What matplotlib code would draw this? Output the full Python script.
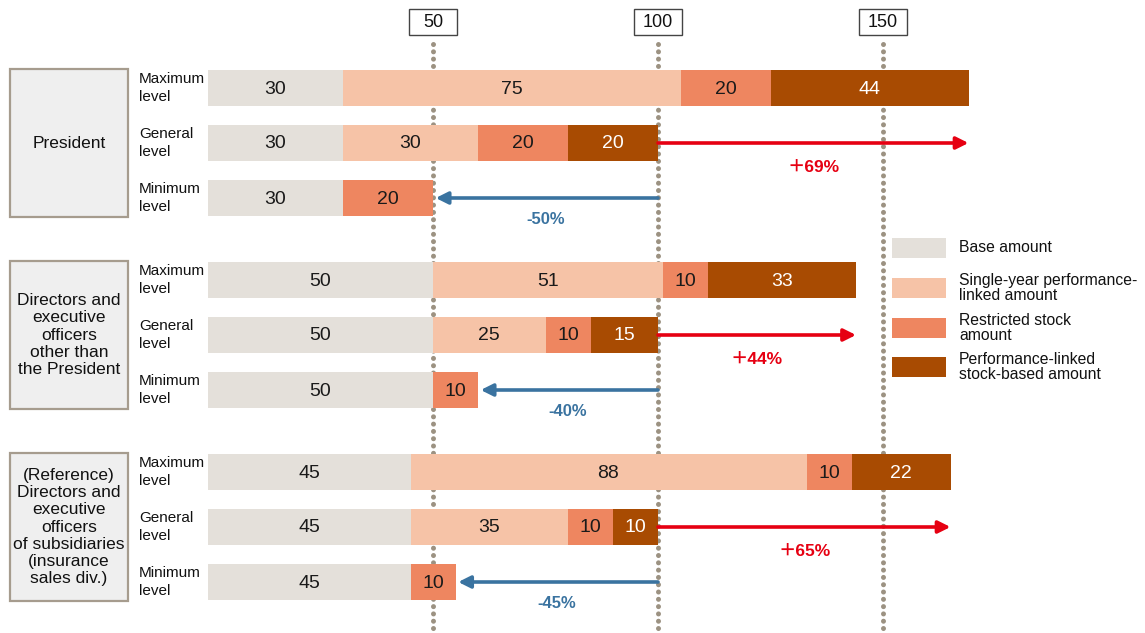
import matplotlib
matplotlib.use("Agg")
import matplotlib.pyplot as plt
from matplotlib.patches import Rectangle

plt.rcParams['font.family'] = ['Liberation Sans', 'Noto Sans CJK JP', 'DejaVu Sans']

# data
groups = ["President",
          "Directors and\nexecutive\nofficers\nother than\nthe President",
          "(Reference)\nDirectors and\nexecutive\nofficers\nof subsidiaries\n(insurance\nsales div.)"]
levels = ["Maximum\nlevel", "General\nlevel", "Minimum\nlevel"]
base = [[30, 30, 30], [50, 50, 50], [45, 45, 45]]
single_year = [[75, 30, 0], [51, 25, 0], [88, 35, 0]]
restricted = [[20, 20, 20], [10, 10, 10], [10, 10, 10]]
perf_stock = [[44, 20, 0], [33, 15, 0], [22, 10, 0]]
up_labels = ["＋69%", "＋44%", "＋65%"]
down_labels = ["-50%", "-40%", "-45%"]
ticks = [50, 100, 150]
series_names = ["Base amount", "Single-year performance-\nlinked amount",
                "Restricted stock\namount", "Performance-linked\nstock-based amount"]
colors = ["#E4E0DA", "#F6C3A7", "#EE8660", "#A84B02"]
text_colors = ["#1a1a1a", "#1a1a1a", "#1a1a1a", "white"]

# layout (y in pixels from top, x in data units; 4.5 px per unit, 0 at x=208px)
W, H = 1145, 633
PX = 4.5
X0 = 208
def px(x):
    return (x - X0) / PX

group_top = [88, 280, 472]
row_step = 55
bar_h = 36

fig = plt.figure(figsize=(W / 100, H / 100), dpi=100)
ax = fig.add_axes([0, 0, 1, 1])
ax.set_xlim(px(0), px(W))
ax.set_ylim(H, 0)
ax.axis('off')

# dotted reference lines + boxed labels
for t in ticks:
    ax.plot([t, t], [44, H], color="#9C9282", lw=3.6, linestyle=(0, (0.01, 1.45)),
            dash_capstyle='round', zorder=1)
    ax.add_patch(Rectangle((t - 24 / PX, 9), 48 / PX, 26, fc='white', ec='#444444',
                           lw=1.0, zorder=3))
    ax.text(t, 22.5, str(t), ha='center', va='center', fontsize=13, color='#111111', zorder=4)

for g, gname in enumerate(groups):
    ys = [group_top[g] + r * row_step for r in range(3)]
    # group box
    box_top = ys[0] - 19
    box_bot = ys[2] + 19
    ax.add_patch(Rectangle((px(10), box_top), 118 / PX, box_bot - box_top,
                           fc="#EFEFEF", ec="#A69C8E", lw=1.6, zorder=2))
    ax.text(px(69), (box_top + box_bot) / 2, gname, ha='center', va='center',
            fontsize=12.5, linespacing=1.18, color='#111111')
    for r in range(3):
        y = ys[r]
        ax.text(px(139), y, levels[r], ha='left', va='center', fontsize=11,
                linespacing=1.38, color='#111111')
        left = 0
        vals = [base[g][r], single_year[g][r], restricted[g][r], perf_stock[g][r]]
        for k, v in enumerate(vals):
            if v == 0:
                continue
            ax.barh(y, v, left=left, height=bar_h, color=colors[k], zorder=2)
            ax.text(left + v / 2, y + 1, str(v), ha='center', va='center', fontsize=14,
                    color=text_colors[k], zorder=4)
            left += v
    # arrows
    max_total = base[g][0] + single_year[g][0] + restricted[g][0] + perf_stock[g][0]
    min_total = base[g][2] + single_year[g][2] + restricted[g][2] + perf_stock[g][2]
    ax.annotate("", xy=(max_total, ys[1]), xytext=(100, ys[1]),
                arrowprops=dict(arrowstyle='-|>', color="#E60012", lw=2.6,
                                mutation_scale=18, shrinkA=0, shrinkB=0), zorder=5)
    ax.text((100 + max_total) / 2, ys[1] + 24, up_labels[g], ha='center', va='center',
            fontsize=12.5, fontweight='bold', color="#E60012")
    ax.annotate("", xy=(min_total + 0.6, ys[2]), xytext=(100, ys[2]),
                arrowprops=dict(arrowstyle='-|>', color="#3A73A0", lw=2.6,
                                mutation_scale=18, shrinkA=0, shrinkB=0), zorder=5)
    ax.text((100 + min_total) / 2, ys[2] + 21, down_labels[g], ha='center', va='center',
            fontsize=12, fontweight='bold', color="#3A73A0")

# legend
leg_y = [248, 288, 328, 367]
for k, name in enumerate(series_names):
    ax.add_patch(Rectangle((px(892), leg_y[k] - 10), 54 / PX, 20, fc=colors[k], ec='none', zorder=3))
    ax.text(px(959), leg_y[k], name, ha='left', va='center', fontsize=11.3,
            linespacing=1.0, color='#111111')

fig.savefig("out.png", dpi=100)
